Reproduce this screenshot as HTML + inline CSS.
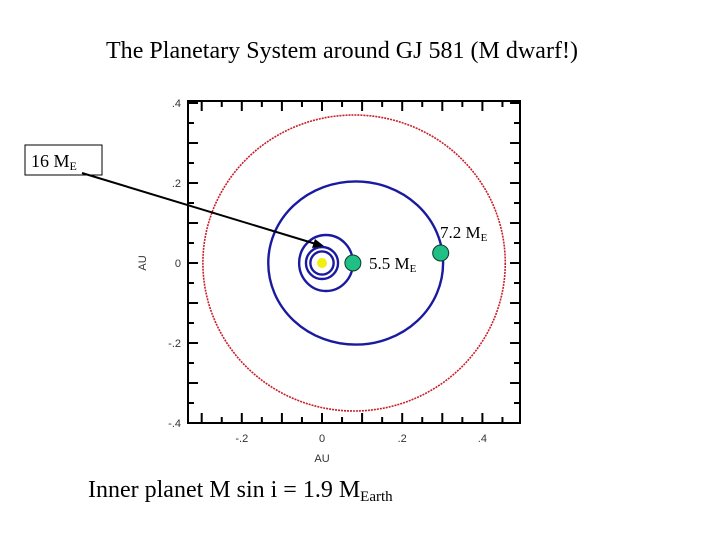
<!DOCTYPE html>
<html><head><meta charset="utf-8"><style>
body{margin:0;background:#fff;}
svg text{font-family:"Liberation Serif",serif;}
</style></head><body>
<svg width="720" height="540" viewBox="0 0 720 540" xmlns="http://www.w3.org/2000/svg">
<text x="342" y="58" font-size="24" text-anchor="middle" textLength="472">The Planetary System around GJ 581 (M dwarf!)</text>
<rect x="188" y="101" width="332" height="322" fill="none" stroke="#000" stroke-width="2"/>
<g id="ticks"></g>
<g id="orbits"></g>
<text x="322" y="462" font-size="11" text-anchor="middle" fill="#333" style="font-family:'Liberation Sans',sans-serif">AU</text>
<text x="146" y="263" font-size="11" text-anchor="middle" fill="#333" transform="rotate(-90 146 263)" style="font-family:'Liberation Sans',sans-serif">AU</text>
<rect x="25" y="145" width="77" height="30" fill="#fff" stroke="#000" stroke-width="1"/>
<text x="31" y="167" font-size="18">16 M<tspan font-size="12" dy="3">E</tspan></text>
<line x1="82" y1="173" x2="316" y2="244" stroke="#000" stroke-width="2"/>
<polygon points="324,246 312,248 315,239" fill="#000"/>
<text x="369" y="269" font-size="17">5.5 M<tspan font-size="11" dy="3">E</tspan></text>
<text x="440" y="238" font-size="17">7.2 M<tspan font-size="11" dy="3">E</tspan></text>
<text x="88" y="497" font-size="24">Inner planet M sin i = 1.9 M<tspan font-size="15" dy="4">Earth</tspan></text>
</svg>
<script>
const tickLabels=["-.2","0",".2",".4"];
const tickValues=[-0.2,0,0.2,0.4];
const yTickLabels=[".4",".2","0","-.2","-.4"];
const yTickValues=[0.4,0.2,0,-0.2,-0.4];
const orbitCx=[0.08,0.084,0.01,0.0,0.0];
const orbitRx=[0.377,0.218,0.067,0.04,0.029];
const orbitRy=[0.37,0.204,0.07,0.04,0.029];
const orbitColors=["#c8202a","#1a1aa0","#1a1aa0","#1a1aa0","#1a1aa0"];
const planetX=[0.077,0.296];
const planetY=[0.0,0.025];
const starX=0,starY=0;
const NS="http://www.w3.org/2000/svg";
const X=v=>322+v*401, Y=v=>263-v*400;
const tg=document.getElementById('ticks'), og=document.getElementById('orbits');
function mk(t,a,p){const e=document.createElementNS(NS,t);for(const k in a)e.setAttribute(k,a[k]);p.appendChild(e);return e;}
for(let i=-7;i<=10;i++){const v=i*0.05;const x=X(v);if(x<=189||x>=519)continue;const L=(i%2==0)?10:6;
 const a=mk('line',{x1:x,y1:423,x2:x,y2:423-L,stroke:'#000','stroke-width':2},tg);
 
 
 const b=mk('line',{x1:x,y1:101,x2:x,y2:101+L,stroke:'#000','stroke-width':2},tg);
 
 }
for(let i=-8;i<=8;i++){const v=i*0.05;const y=Y(v);if(y<=102||y>=422)continue;const L=(i%2==0)?10:6;
 const a=mk('line',{x1:188,y1:y,x2:188+L,y2:y,stroke:'#000','stroke-width':2},tg);
 
 
 const b=mk('line',{x1:520,y1:y,x2:520-L,y2:y,stroke:'#000','stroke-width':2},tg);
 
 }
tickValues.forEach((v,i)=>{const t=mk('text',{x:X(v),y:442,'font-size':11,'text-anchor':'middle',fill:'#333',style:"font-family:'Liberation Sans',sans-serif"},tg);t.textContent=tickLabels[i];
 
 });
yTickValues.forEach((v,i)=>{const t=mk('text',{x:181,y:Y(v)+4,'font-size':11,'text-anchor':'end',fill:'#333',style:"font-family:'Liberation Sans',sans-serif"},tg);t.textContent=yTickLabels[i];
 
 });
orbitCx.forEach((c,i)=>{const e=mk('ellipse',{cx:X(c),cy:Y(0),rx:orbitRx[i]*401,ry:orbitRy[i]*400,fill:'none',stroke:orbitColors[i],'stroke-width':i==0?1.6:2.4,'stroke-dasharray':i==0?'2 1':'none'},og);
 
 });
const s=mk('circle',{cx:X(starX),cy:Y(starY),r:5,fill:'#f2ee10'},og);


planetX.forEach((px,i)=>{const p=mk('circle',{cx:X(px),cy:Y(planetY[i]),r:8,fill:'#1fbf86',stroke:'#0a3a2a','stroke-width':1},og);
 
 });
</script>
</body></html>
